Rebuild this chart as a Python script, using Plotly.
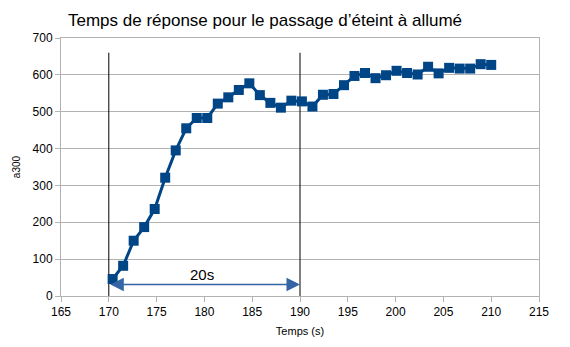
import plotly.graph_objects as go

# Data
temps = [170.4, 171.5, 172.6, 173.7, 174.8, 175.9, 177.0, 178.1, 179.2, 180.3,
         181.4, 182.5, 183.6, 184.7, 185.8, 186.9, 188.0, 189.1, 190.2, 191.3,
         192.4, 193.5, 194.6, 195.7, 196.8, 197.9, 199.0, 200.1, 201.2, 202.3,
         203.4, 204.5, 205.6, 206.7, 207.8, 208.9, 210.0]
a300 = [46, 82, 150, 187, 236, 321, 395, 455, 483, 483,
        522, 539, 559, 577, 545, 524, 511, 530, 528, 514,
        546, 548, 572, 597, 605, 591, 599, 611, 605, 601,
        622, 604, 619, 617, 617, 629, 627]

marker_lines_x = [170, 190]
marker_lines_top = 660
arrow_y = 31
arrow_label = "20s"
label_pos = (179.7, 57)

x_ticks = [165, 170, 175, 180, 185, 190, 195, 200, 205, 210, 215]
y_ticks = [0, 100, 200, 300, 400, 500, 600, 700]

font = "Liberation Sans, Arial, sans-serif"

fig = go.Figure()

# vertical reference lines
for xv in marker_lines_x:
    fig.add_trace(go.Scatter(
        x=[xv, xv], y=[0, marker_lines_top], mode="lines",
        line=dict(color="black", width=1), hoverinfo="skip", showlegend=False))

fig.add_trace(go.Scatter(
    x=temps, y=a300, mode="lines+markers",
    line=dict(color="#004586", width=3),
    marker=dict(symbol="square", size=10, color="#004586"),
    showlegend=False))

# double-headed arrow
fig.add_annotation(
    x=marker_lines_x[1], y=arrow_y, ax=marker_lines_x[0], ay=arrow_y,
    xref="x", yref="y", axref="x", ayref="y",
    text="", showarrow=True, arrowhead=2, startarrowhead=2,
    arrowside="end+start", arrowsize=1.8, startarrowsize=1.8,
    arrowwidth=1.5, arrowcolor="#3465a4")
fig.add_annotation(
    x=label_pos[0], y=label_pos[1], xref="x", yref="y",
    text=arrow_label, showarrow=False,
    font=dict(family=font, size=15, color="black"))

fig.update_layout(
    width=570, height=347,
    margin=dict(l=61, r=31, t=37.5, b=50.5),
    paper_bgcolor="white", plot_bgcolor="white",
    title=dict(text="Temps de réponse pour le passage d’éteint à allumé",
               x=265 / 570, xref="container", xanchor="center",
               y=1 - 20 / 347, yref="container", yanchor="middle",
               font=dict(family=font, size=17, color="black")),
    xaxis=dict(range=[165, 215], tickvals=x_ticks, showgrid=False,
               showline=True, linecolor="#b3b3b3", linewidth=1, mirror=True,
               ticks="outside", ticklen=5, tickcolor="#b3b3b3",
               tickfont=dict(family=font, size=12, color="black"),
               zeroline=False,
               title=dict(text="Temps (s)", standoff=8,
                          font=dict(family=font, size=11, color="black"))),
    yaxis=dict(range=[0, 700], tickvals=y_ticks, showgrid=True,
               gridcolor="#b3b3b3", gridwidth=1,
               showline=True, linecolor="#b3b3b3", linewidth=1, mirror=True,
               ticks="outside", ticklen=5, tickcolor="#b3b3b3",
               tickfont=dict(family=font, size=12, color="black"),
               zeroline=False,
               title=dict(text="a300", standoff=10,
                          font=dict(family=font, size=10, color="black"))),
)

fig.write_html("out.html")
